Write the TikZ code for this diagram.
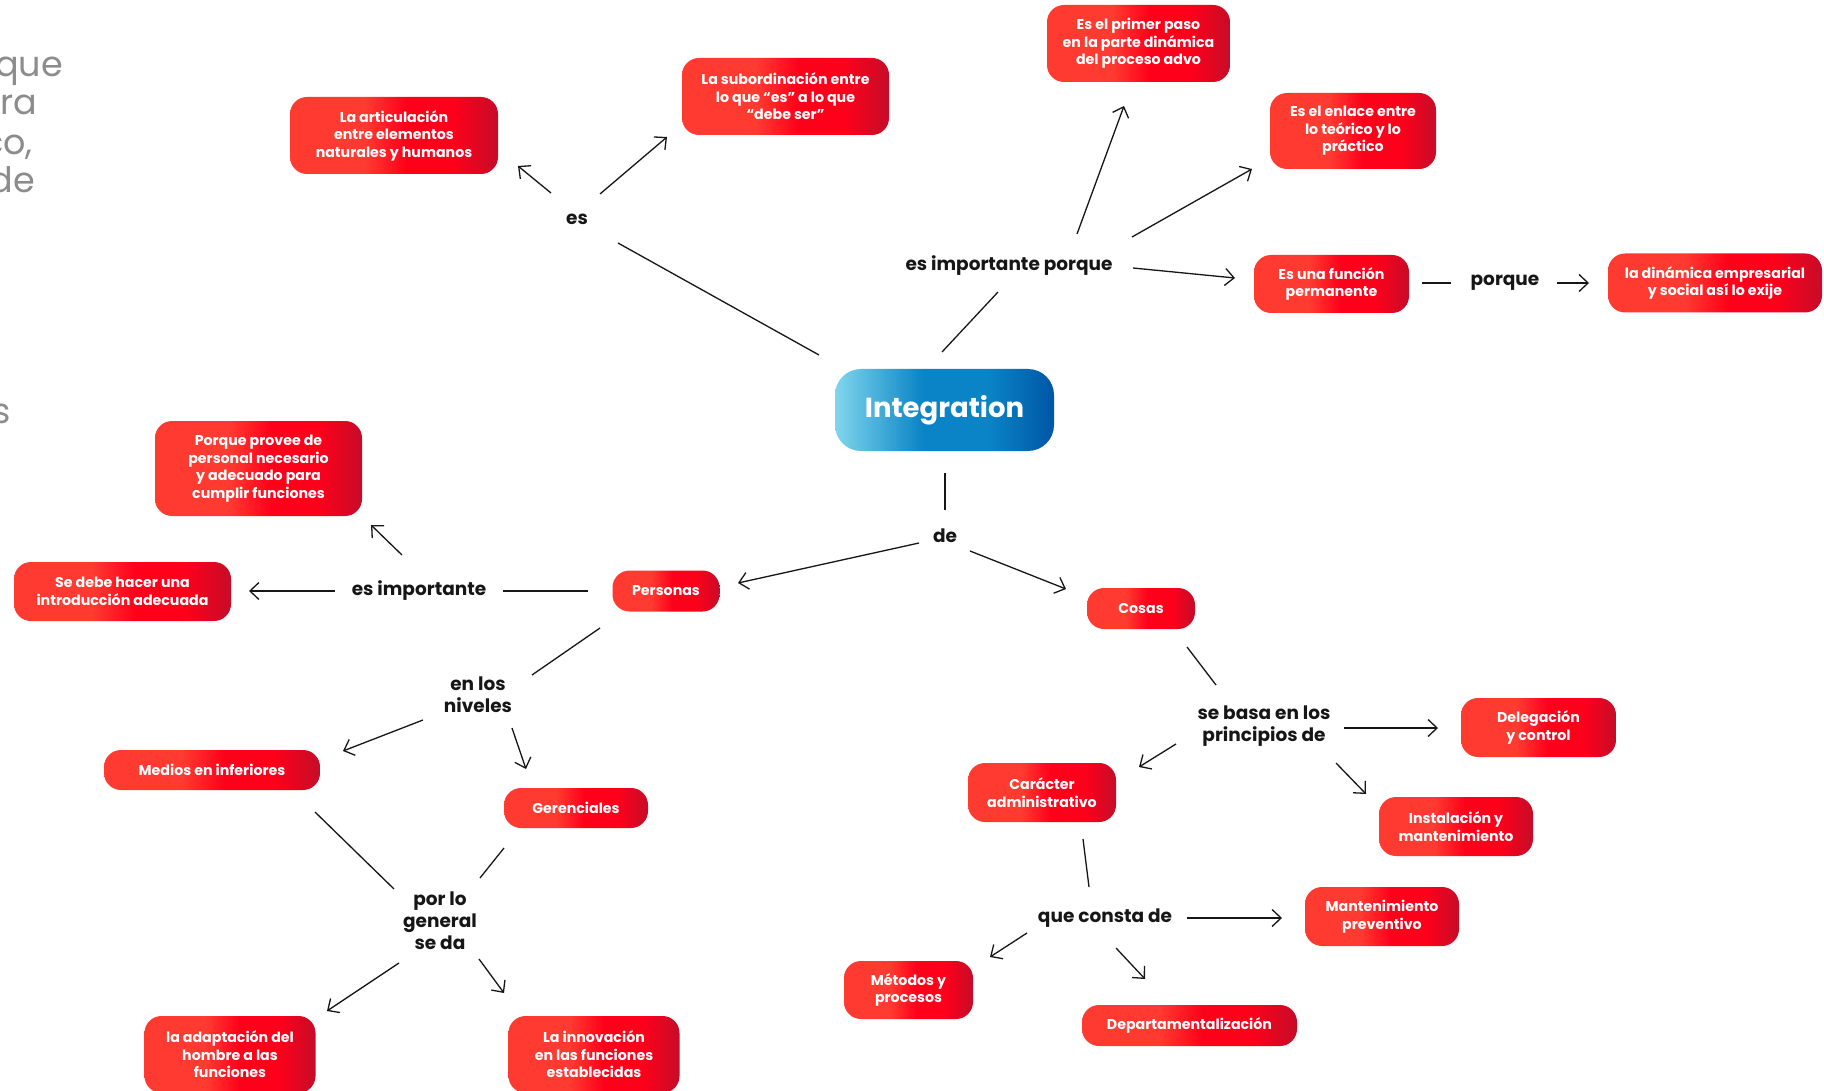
\documentclass[tikz,border=0pt]{standalone}
\usepackage{fontspec}
\setmainfont{Poppins}
\usetikzlibrary{arrows.meta,calc}

\definecolor{rA}{RGB}{255,58,48}
\definecolor{rB}{RGB}{255,0,26}
\definecolor{rC}{RGB}{198,12,40}
\definecolor{bA}{RGB}{128,214,236}
\definecolor{bB}{RGB}{10,132,198}
\definecolor{bC}{RGB}{0,86,166}
\definecolor{ink}{RGB}{22,22,22}
\definecolor{ghost}{RGB}{140,140,140}

\pgfdeclarehorizontalshading{redgrad}{100bp}{color(0bp)=(rA); color(25bp)=(rA); color(43bp)=(rA); color(53bp)=(rB); color(64bp)=(rB); color(75bp)=(rC); color(100bp)=(rC)}
\pgfdeclarehorizontalshading{bluegrad}{100bp}{color(0bp)=(bA); color(25bp)=(bA); color(45bp)=(bB); color(60bp)=(bB); color(75bp)=(bC); color(100bp)=(bC)}

\tikzset{
  rbox/.style={shade, shading=redgrad, rounded corners=17pt, text=white,
    font=\bfseries\fontsize{14.2}{17.5}\selectfont, align=center, inner sep=0pt},
  lbl/.style={text=ink, font=\bfseries\fontsize{18.5}{22}\selectfont, align=center, inner sep=0pt},
  ghosttext/.style={text=ghost, font=\fontsize{35}{38}\selectfont, inner sep=0pt, anchor=base east},
  ln/.style={draw=ink, line width=1.3pt},
  arr/.style={ln, -{Straight Barb[length=9pt,width=17pt,line width=1.3pt]}}
}
\newcommand\conn[5][ln]{\draw[#1] ($(#2)+(#3)$) -- ($(#4)+(#5)$);}

\begin{document}
\begin{tikzpicture}[x=1pt,y=-1pt]
\useasboundingbox (0,0) rectangle (1824,1091);
\fill[white] (0,0) rectangle (1824,1091);

% partial text at the left edge
\node[ghosttext] (g1) at (63,77) {que};
\node[ghosttext] (g2) at (37,115) {era};
\node[ghosttext] (g3) at (33,155) {co,};
\node[ghosttext] (g4) at (35,193) {de};
\node[ghosttext] (g5) at (11,423) {s};

% central node
\node[shade, shading=bluegrad, rounded corners=26pt, minimum width=219pt, minimum height=82pt,
  text=white, font=\bfseries\fontsize{27.5}{32}\selectfont, inner sep=0pt] (integ) at (944.5,410) {Integration};

% labels
\node[lbl] (es) at (577,219) {es};
\node[lbl] (esimpp) at (1009,266) {es importante porque};
\node[lbl] (porque) at (1505,283) {porque};
\node[lbl] (de) at (945,536) {de};
\node[lbl] (esimp) at (419,591) {es importante};
\node[lbl] (enlos) at (478,695) {en los\\niveles};
\node[lbl] (porlo) at (440,921) {por lo\\general\\se da};
\node[lbl] (sebasa) at (1264,726) {se basa en los\\principios de};
\node[lbl] (queconsta) at (1105,918) {que consta de};

% red boxes
\node[rbox, minimum width=208pt, minimum height=77pt] (artic) at (394,135.5) {La articulación\\entre elementos\\naturales y humanos};
\node[rbox, minimum width=207pt, minimum height=77pt] (subord) at (785.5,96.5) {La subordinación entre\\lo que “es” a lo que\\“debe ser”};
\node[rbox, minimum width=183pt, minimum height=77pt] (primer) at (1138.5,43.5) {Es el primer paso\\en la parte dinámica\\del proceso advo};
\node[rbox, minimum width=166pt, minimum height=76pt] (enlace) at (1353,131) {Es el enlace entre\\lo teórico y lo\\práctico};
\node[rbox, minimum width=155pt, minimum height=58pt] (funcion) at (1331.5,284) {Es una función\\permanente};
\node[rbox, minimum width=214pt, minimum height=59pt] (dinam) at (1715,283) {la dinámica empresarial\\y social así lo exije};
\node[rbox, minimum width=207pt, minimum height=95pt] (porqprov) at (258.5,468.5) {Porque provee de\\personal necesario\\y adecuado para\\cumplir funciones};
\node[rbox, minimum width=217pt, minimum height=59pt] (sedebe) at (122.5,591.5) {Se debe hacer una\\introducción adecuada};
\node[rbox, minimum width=107pt, minimum height=41pt] (personas) at (666,591) {Personas};
\node[rbox, minimum width=216pt, minimum height=40pt] (medios) at (212,770) {Medios en inferiores};
\node[rbox, minimum width=144pt, minimum height=40pt] (geren) at (576,808) {Gerenciales};
\node[rbox, minimum width=171pt, minimum height=77pt] (adapt) at (230,1054.5) {la adaptación del\\hombre a las\\funciones};
\node[rbox, minimum width=171pt, minimum height=77pt] (innov) at (594,1054.5) {La innovación\\en las funciones\\establecidas};
\node[rbox, minimum width=108pt, minimum height=41pt] (cosas) at (1141,608.5) {Cosas};
\node[rbox, minimum width=155pt, minimum height=59pt] (deleg) at (1538.5,727.5) {Delegación\\y control};
\node[rbox, minimum width=154pt, minimum height=59pt] (instal) at (1456,826.5) {Instalación y\\mantenimiento};
\node[rbox, minimum width=148pt, minimum height=59pt] (caracter) at (1042,792.5) {Carácter\\administrativo};
\node[rbox, minimum width=154pt, minimum height=59pt] (manten) at (1382,916.5) {Mantenimiento\\preventivo};
\node[rbox, minimum width=129pt, minimum height=58pt] (metodos) at (908.5,990) {Métodos y\\procesos};
\node[rbox, minimum width=215pt, minimum height=41pt] (depto) at (1189.5,1025.5) {Departamentalización};

% connectors
\conn{integ}{-125.5,-55}{es}{41,24}
\conn[arr]{es}{-26,-26}{artic}{124,30.5}
\conn[arr]{es}{23,-25}{subord}{-118.5,40.5}
\conn{integ}{-2.5,-58}{esimpp}{-11,26}
\conn[arr]{esimpp}{68,-32}{primer}{-14.5,62.5}
\conn[arr]{esimpp}{123,-29}{enlace}{-101,38}
\conn[arr]{esimpp}{124,2}{funcion}{-96.5,-6}
\conn{funcion}{90.5,-1}{porque}{-54,0}
\conn[arr]{porque}{52,0}{dinam}{-126,0}
\conn{integ}{0.5,63}{de}{0,-26}
\conn[arr]{de}{-26,7}{personas}{72,-8}
\conn[arr]{de}{25,15}{cosas}{-75,-19.5}
\conn{personas}{-78,0}{esimp}{84,0}
\conn[arr]{esimp}{-84,0}{sedebe}{126.5,-0.5}
\conn[arr]{esimp}{-17,-36}{porqprov}{112.5,56.5}
\conn{personas}{-66,37}{enlos}{54,-20}
\conn[arr]{enlos}{-55,25}{medios}{131,-19}
\conn[arr]{enlos}{34,33}{geren}{-50,-39}
\conn{medios}{103,42}{porlo}{-46,-32}
\conn{geren}{-72,40}{porlo}{40,-43}
\conn[arr]{porlo}{-41,42}{adapt}{97,-43.5}
\conn[arr]{porlo}{39,38}{innov}{-90,-61.5}
\conn{cosas}{46,38.5}{sebasa}{-48,-41}
\conn[arr]{sebasa}{80,2}{deleg}{-100.5,0.5}
\conn[arr]{sebasa}{72,37}{instal}{-90,-32.5}
\conn[arr]{sebasa}{-88,18}{caracter}{97,-25.5}
\conn{caracter}{41,46.5}{queconsta}{-16,-31}
\conn[arr]{queconsta}{82,0}{manten}{-100,1.5}
\conn[arr]{queconsta}{-78,15}{metodos}{81.5,-33}
\conn[arr]{queconsta}{11,30}{depto}{-44.5,-46.5}
\end{tikzpicture}
\end{document}
